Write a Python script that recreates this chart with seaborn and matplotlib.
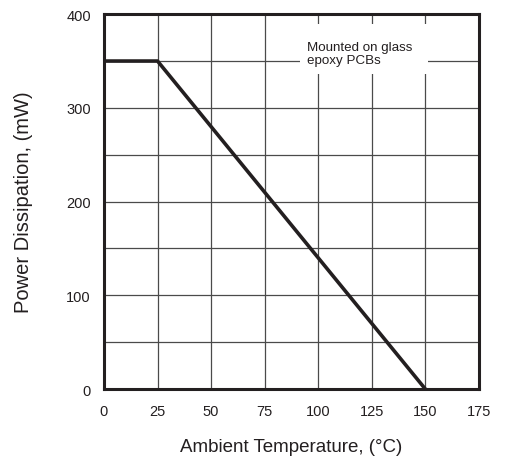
import matplotlib
matplotlib.use("Agg")
import matplotlib.pyplot as plt
from matplotlib.patches import Rectangle
import seaborn as sns
import pandas as pd

# Derating curve data
temps = [0, 25, 150]
power = [350, 350, 0]
x_ticks = [0, 25, 50, 75, 100, 125, 150, 175]
y_ticks = [0, 100, 200, 300, 400]

sns.set_style("white")
plt.rcParams["font.family"] = ["Liberation Sans", "DejaVu Sans"]

INK = "#231f20"
df = pd.DataFrame({"temp": temps, "power": power})

fig = plt.figure(figsize=(5.06, 4.6), dpi=100)
ax = fig.add_axes([0.2055, 0.152, 0.741, 0.815])

# grid every 25 C and 50 mW
for gx in range(25, 175, 25):
    ax.axvline(gx, color="#4a4a4a", lw=0.9, zorder=1)
for gy in range(50, 400, 50):
    ax.axhline(gy, color="#4a4a4a", lw=0.9, zorder=1)

sns.lineplot(data=df, x="temp", y="power", ax=ax, color=INK, lw=2.6, zorder=3)

# white patch behind the note
ax.add_patch(Rectangle((91.5, 336), 59.7, 53.3, facecolor="white",
                       edgecolor="none", zorder=2))
ax.text(94.7, 358, "Mounted on glass\nepoxy PCBs", fontsize=9.6, color=INK,
        ha="left", va="center", linespacing=1.05, zorder=2.5)

ax.set_xlim(0, 175)
ax.set_ylim(0, 400)
ax.set_xticks(x_ticks)
ax.set_yticks(y_ticks)
ax.tick_params(length=0, labelsize=10.5, colors=INK)
ax.tick_params(axis="x", pad=11)
ax.tick_params(axis="y", pad=9.5)
for s in ax.spines.values():
    s.set_linewidth(2.2)
    s.set_color(INK)

ax.set_xlabel("Ambient Temperature, (°C)", fontsize=13.5, color=INK, labelpad=14.5)
ax.set_ylabel("Power Dissipation, (mW)", fontsize=14.5, color=INK, labelpad=24)

fig.savefig("out.png", dpi=100)
